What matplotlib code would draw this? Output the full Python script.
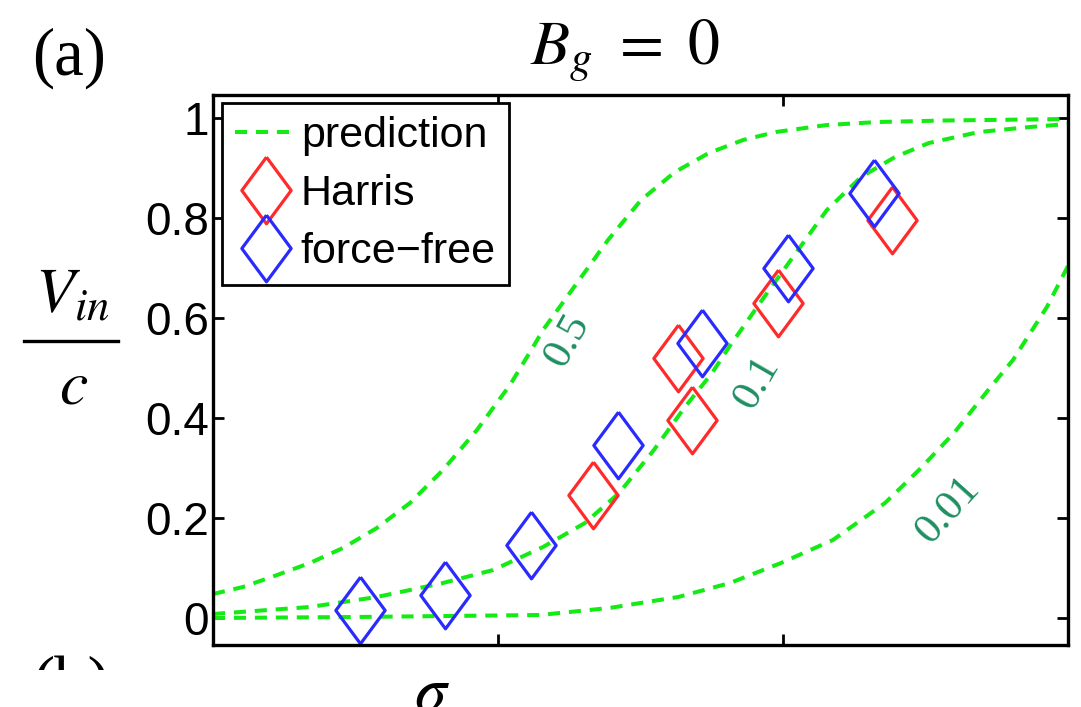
import numpy as np
import matplotlib
matplotlib.use('Agg')
import matplotlib.pyplot as plt
from matplotlib.lines import Line2D
from matplotlib.patches import Rectangle

# prediction curves: log10(sigma) and Vin/c
logs_05 = [-1.0, -0.895, -0.775, -0.66, -0.544, -0.425, -0.309, -0.193, -0.074, 0.042,
           0.123, 0.158, 0.267, 0.386, 0.502, 0.621, 0.740, 0.860, 0.975, 1.154,
           1.333, 1.568, 2.0]
v_05 = [0.048, 0.062, 0.086, 0.11, 0.14, 0.18, 0.23, 0.296, 0.376, 0.466,
        0.542, 0.576, 0.662, 0.756, 0.836, 0.892, 0.93, 0.956, 0.972, 0.986,
        0.992, 0.995, 0.998]

logs_01 = [-1.0, -0.66, -0.425, -0.193, -0.017, 0.158, 0.305, 0.425, 0.547, 0.656,
           0.751, 0.811, 0.919, 1.035, 1.154, 1.274, 1.393, 1.512, 1.688, 1.867, 2.0]
v_01 = [0.008, 0.022, 0.042, 0.07, 0.096, 0.142, 0.19, 0.25, 0.336, 0.422,
        0.49, 0.542, 0.63, 0.722, 0.816, 0.882, 0.922, 0.95, 0.972, 0.982, 0.988]

logs_001 = [-1.0, -0.5, 0.147, 0.39, 0.632, 0.814, 0.993, 1.175, 1.358, 1.477,
            1.6, 1.72, 1.807, 1.926, 2.0]
v_001 = [0.0, 0.002, 0.006, 0.02, 0.042, 0.07, 0.11, 0.156, 0.23, 0.296,
         0.37, 0.456, 0.516, 0.622, 0.704]

# simulation points
harris_logs = [0.333, 0.632, 0.680, 0.982, 1.382]
harris_v = [0.246, 0.52, 0.396, 0.63, 0.796]
ff_logs = [-0.484, -0.186, 0.116, 0.421, 0.716, 1.018, 1.319]
ff_v = [0.016, 0.046, 0.146, 0.346, 0.55, 0.70, 0.85]

# contour labels: text, log10(sigma), Vin/c, angle
curve_labels = [('0.5', 0.245, 0.555, 61), ('0.1', 0.91, 0.47, 60), ('0.01', 1.58, 0.216, 48)]

ytick_vals = [0, 0.2, 0.4, 0.6, 0.8, 1]
ytick_text = ['0', '0.2', '0.4', '0.6', '0.8', '1']

plt.rcParams['font.family'] = ['Liberation Sans', 'DejaVu Sans']
plt.rcParams['mathtext.fontset'] = 'stix'

green = '#14eb14'
teal = '#1f8f62'
diamond = [(0, 1), (0.74, 0), (0, -1), (-0.74, 0), (0, 1)]
dash = (0, (3, 2.2))

fig = plt.figure(figsize=(10.81, 7.07), dpi=100)
ax = fig.add_axes([213 / 1081, 1 - 645 / 707, 855 / 1081, 550 / 707])

for lg, v in [(logs_05, v_05), (logs_01, v_01), (logs_001, v_001)]:
    ax.plot(np.power(10.0, lg), v, color=green, lw=2.9, ls=dash)

ms = 48
ax.plot(np.power(10.0, harris_logs), harris_v, ls='none', marker=diamond, ms=ms,
        mfc='none', mec='#ff2a2a', mew=2.3)
ax.plot(np.power(10.0, ff_logs), ff_v, ls='none', marker=diamond, ms=ms,
        mfc='none', mec='#2a2aff', mew=2.3)

for txt, lg, v, ang in curve_labels:
    ax.text(10 ** lg, v, txt, rotation=ang, color=teal, fontsize=31,
            family='Liberation Serif', ha='center', va='center', rotation_mode='anchor')

ax.set_xscale('log')
ax.set_xlim(0.1, 100)
ax.set_ylim(-0.054, 1.046)
ax.set_xticks([1, 10])
ax.set_xticks([], minor=True)
ax.set_yticks(ytick_vals)
ax.set_yticklabels(ytick_text)
ax.tick_params(which='both', direction='in', top=True, right=True, length=8, width=2,
               labelbottom=False, labelsize=33, pad=3)
for s in ax.spines.values():
    s.set_linewidth(2.4)

handles = [Line2D([], [], color=green, lw=2.9, ls=dash),
           Line2D([], [], ls='none', marker=diamond, ms=ms, mfc='none', mec='#ff2a2a', mew=2.3),
           Line2D([], [], ls='none', marker=diamond, ms=ms, mfc='none', mec='#2a2aff', mew=2.3)]
leg = ax.legend(handles, ['prediction', 'Harris', 'force\u2212free'], loc='upper left',
                bbox_to_anchor=(0.0105, 0.9855), borderaxespad=0, fontsize=31,
                fancybox=False, framealpha=1, edgecolor='black', numpoints=1,
                handlelength=1.45, handletextpad=0.08, labelspacing=0.42, borderpad=0.3)
leg.get_frame().set_linewidth(2)

fig.text(625 / 1081, 1 - 65 / 707, r'$B_g\ =\ 0$', fontsize=46, ha='center', va='baseline')
fig.text(32 / 1081, 1 - 75 / 707, '(a)', fontsize=48, family='Liberation Serif', va='baseline')

# y label drawn as a fraction
fig.text(72 / 1081, 1 - 312 / 707, '$V_{in}$', fontsize=46, ha='center', va='baseline')
fig.add_artist(Line2D([24 / 1081, 118 / 1081], [1 - 341 / 707, 1 - 341 / 707],
                      color='black', lw=2.4, transform=fig.transFigure))
fig.text(74 / 1081, 1 - 403 / 707, '$c$', fontsize=46, ha='center', va='baseline')

fig.text(432 / 1081, -0.004, r'$\sigma$', fontsize=46, ha='center', va='baseline')

# the next panel's label, mostly hidden
fig.text(32 / 1081, 1 - 703 / 707, '(b)', fontsize=48, family='Liberation Serif',
         va='baseline', zorder=3)
fig.add_artist(Rectangle((0, 0), 260 / 1081, 37 / 707, transform=fig.transFigure,
                         facecolor='white', edgecolor='none', zorder=5))

fig.savefig('out.png', dpi=100)
